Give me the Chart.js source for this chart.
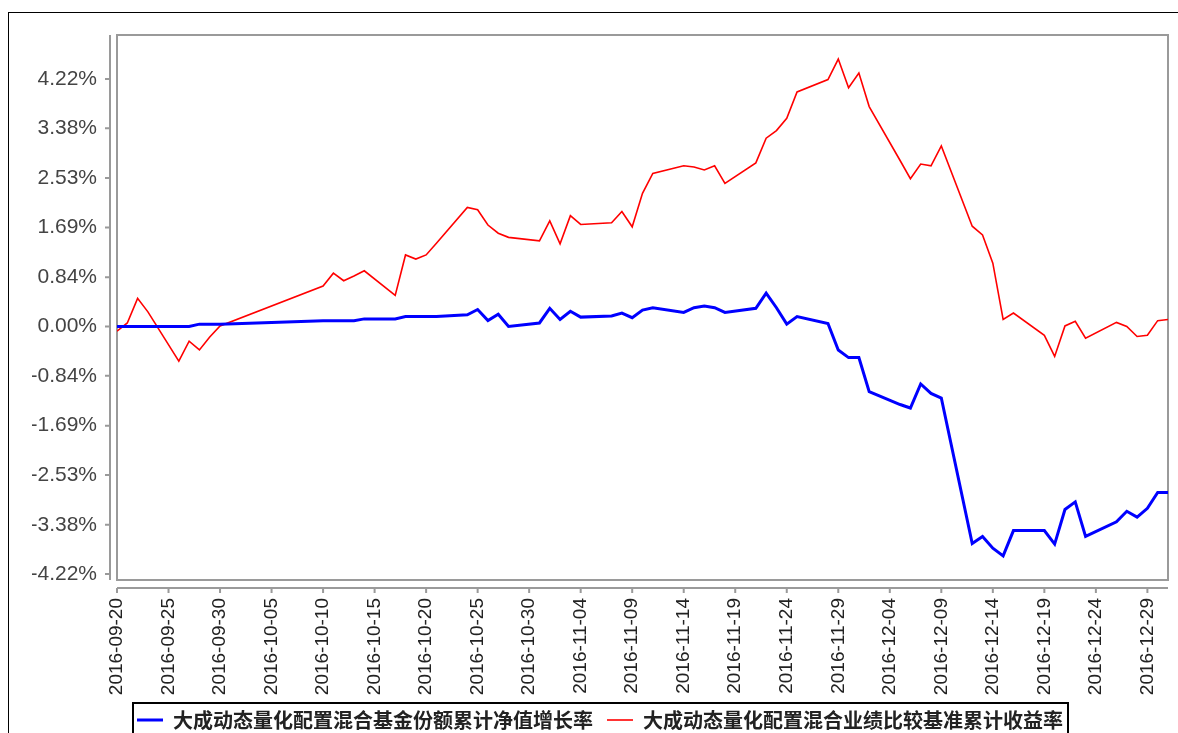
<!DOCTYPE html>
<html lang="zh-CN">
<head>
  <meta charset="UTF-8" />
  <title>大成动态量化配置混合 累计收益率</title>
  <script src="https://cdn.jsdelivr.net/npm/chart.js@4"></script>
  <style>
    html, body { margin: 0; padding: 0; background: #fff; overflow: hidden; }
    #wrap { position: relative; width: 1178px; height: 733px; overflow: hidden; }
    #frame {
      position: absolute; left: 8px; top: 12px; width: 1300px; height: 900px;
      border-left: 1px solid #000; border-top: 1px solid #000;
    }
    canvas { position: absolute; left: 0; top: 0; }
  </style>
</head>
<body>
  <div id="wrap">
    <div id="frame"></div>
    <canvas id="chart" width="1178" height="740"></canvas>
  </div>

  <script>
    // trading days (plus the year-end date)
    const dates = [
      "2016-09-20", "2016-09-21", "2016-09-22", "2016-09-23", "2016-09-26", "2016-09-27", "2016-09-28", "2016-09-29", "2016-09-30",
      "2016-10-10", "2016-10-11", "2016-10-12", "2016-10-13", "2016-10-14", "2016-10-17", "2016-10-18", "2016-10-19", "2016-10-20",
      "2016-10-21", "2016-10-24", "2016-10-25", "2016-10-26", "2016-10-27", "2016-10-28", "2016-10-31",
      "2016-11-01", "2016-11-02", "2016-11-03", "2016-11-04", "2016-11-07", "2016-11-08", "2016-11-09", "2016-11-10", "2016-11-11",
      "2016-11-14", "2016-11-15", "2016-11-16", "2016-11-17", "2016-11-18", "2016-11-21", "2016-11-22", "2016-11-23", "2016-11-24",
      "2016-11-25", "2016-11-28", "2016-11-29", "2016-11-30",
      "2016-12-01", "2016-12-02", "2016-12-05", "2016-12-06", "2016-12-07", "2016-12-08", "2016-12-09", "2016-12-12", "2016-12-13",
      "2016-12-14", "2016-12-15", "2016-12-16", "2016-12-19", "2016-12-20", "2016-12-21", "2016-12-22", "2016-12-23", "2016-12-26",
      "2016-12-27", "2016-12-28", "2016-12-29", "2016-12-30", "2016-12-31"
    ];

    // 基金份额累计净值增长率 (%)
    const fundReturn = [
      0.00, 0.00, 0.00, 0.00, 0.00, 0.00, 0.04, 0.04, 0.04,
      0.10, 0.10, 0.10, 0.10, 0.13, 0.13, 0.17, 0.17, 0.17,
      0.17, 0.20, 0.29, 0.10, 0.21, 0.00, 0.06,
      0.31, 0.12, 0.26, 0.16, 0.18, 0.23, 0.15, 0.28, 0.32,
      0.24, 0.32, 0.35, 0.32, 0.24, 0.31, 0.57, 0.32, 0.04,
      0.17, 0.05, -0.40, -0.53,
      -0.53, -1.11, -1.33, -1.39, -0.98, -1.14, -1.22, -3.70, -3.58,
      -3.78, -3.91, -3.48, -3.48, -3.71, -3.12, -2.99, -3.58, -3.33,
      -3.15, -3.25, -3.10, -2.83, -2.83
    ];

    // 业绩比较基准累计收益率 (%)
    const benchReturn = [
      -0.08, 0.06, 0.48, 0.25, -0.59, -0.25, -0.40, -0.18, 0.01,
      0.69, 0.91, 0.78, 0.86, 0.95, 0.53, 1.22, 1.15, 1.22,
      1.42, 2.03, 1.99, 1.73, 1.59, 1.52, 1.46,
      1.80, 1.41, 1.89, 1.74, 1.77, 1.96, 1.70, 2.27, 2.61,
      2.74, 2.72, 2.67, 2.74, 2.44, 2.79, 3.21, 3.34, 3.55,
      4.00, 4.21, 4.56, 4.07,
      4.32, 3.75, 2.83, 2.52, 2.77, 2.74, 3.08, 1.71, 1.56,
      1.08, 0.12, 0.23, -0.15, -0.51, 0.01, 0.09, -0.20, 0.07,
      0.00, -0.17, -0.15, 0.10, 0.12
    ];

    const seriesNames = [
      "大成动态量化配置混合基金份额累计净值增长率",
      "大成动态量化配置混合业绩比较基准累计收益率"
    ];

    const xTickDates = [
      "2016-09-20", "2016-09-25", "2016-09-30", "2016-10-05", "2016-10-10", "2016-10-15", "2016-10-20",
      "2016-10-25", "2016-10-30", "2016-11-04", "2016-11-09", "2016-11-14", "2016-11-19", "2016-11-24",
      "2016-11-29", "2016-12-04", "2016-12-09", "2016-12-14", "2016-12-19", "2016-12-24", "2016-12-29"
    ];

    const yTickValues = [-4.22, -3.38, -2.53, -1.69, -0.84, 0, 0.84, 1.69, 2.53, 3.38, 4.22];

    // x axis is calendar days counted from the first date
    const t0 = Date.parse(dates[0]);
    const dayOf = s => Math.round((Date.parse(s) - t0) / 86400000);

    const toPoints = values => dates.map((d, i) => ({ x: dayOf(d), y: values[i] }));

    // plot frame, detached axes and the boxed legend
    const framePlugin = {
      id: "framePlugin",
      beforeDatasetsDraw(chart) {
        const { ctx, chartArea: a, scales: { x, y } } = chart;
        ctx.save();
        ctx.strokeStyle = "#9a9a9a";
        ctx.lineWidth = 2;
        ctx.strokeRect(a.left, a.top, a.right - a.left, a.bottom - a.top);

        const ax = a.left - 7;
        const ay = a.bottom + 8;
        ctx.beginPath();
        ctx.moveTo(ax, a.top);
        ctx.lineTo(ax, a.bottom);
        y.ticks.forEach(t => {
          const py = y.getPixelForValue(t.value);
          ctx.moveTo(ax - 5, py);
          ctx.lineTo(ax, py);
        });
        ctx.moveTo(a.left, ay);
        ctx.lineTo(a.right, ay);
        x.ticks.forEach(t => {
          const px = x.getPixelForValue(t.value);
          ctx.moveTo(px, ay);
          ctx.lineTo(px, ay + 5);
        });
        ctx.stroke();
        ctx.restore();
      },
      afterDraw(chart) {
        const boxes = chart.legend && chart.legend.legendHitBoxes;
        if (!boxes || !boxes.length) return;
        const first = boxes[0];
        const last = boxes[boxes.length - 1];
        const left = first.left - 4;
        const top = first.top - 7;
        const right = last.left + last.width + 5;
        const ctx = chart.ctx;
        ctx.save();
        ctx.strokeStyle = "#000";
        ctx.lineWidth = 2;
        ctx.strokeRect(left, top, right - left, chart.height - top + 10);
        ctx.restore();
      }
    };

    new Chart(document.getElementById("chart").getContext("2d"), {
      type: "line",
      data: {
        datasets: [
          {
            label: seriesNames[0],
            data: toPoints(fundReturn),
            borderColor: "#0000ff",
            backgroundColor: "#0000ff",
            borderWidth: 3,
            pointRadius: 0,
            tension: 0,
            fill: false
          },
          {
            label: seriesNames[1],
            data: toPoints(benchReturn),
            borderColor: "#ff0000",
            backgroundColor: "#ff0000",
            borderWidth: 1.6,
            pointRadius: 0,
            tension: 0,
            fill: false
          }
        ]
      },
      options: {
        responsive: false,
        animation: false,
        layout: { padding: { top: 35, right: 10, left: 32, bottom: 0 } },
        plugins: {
          tooltip: { enabled: false },
          legend: {
            position: "bottom",
            labels: {
              usePointStyle: true,
              pointStyle: "line",
              pointStyleWidth: 26,
              padding: 14,
              color: "#222",
              font: { family: "'Noto Sans CJK SC', sans-serif", size: 20, weight: "bold" }
            }
          }
        },
        scales: {
          x: {
            type: "linear",
            min: 0,
            max: dayOf(dates[dates.length - 1]),
            grid: { display: false, drawTicks: false },
            border: { display: false },
            afterBuildTicks: s => { s.ticks = xTickDates.map(d => ({ value: dayOf(d) })); },
            afterFit: s => { s.height = 116; s.paddingLeft = 0; s.paddingRight = 0; },
            ticks: {
              autoSkip: false,
              minRotation: 90,
              maxRotation: 90,
              padding: 18,
              color: "#222",
              font: { family: "'Liberation Sans', Arial, sans-serif", size: 19 },
              callback: v => xTickDates.find(d => dayOf(d) === v) || ""
            }
          },
          y: {
            type: "linear",
            min: -4.322,
            max: 4.97,
            grid: { display: false, drawTicks: false },
            border: { display: false },
            afterBuildTicks: s => { s.ticks = yTickValues.map(v => ({ value: v })); },
            afterFit: s => { s.width = 85; },
            ticks: {
              padding: 20,
              color: "#444",
              font: { family: "'Liberation Sans', Arial, sans-serif", size: 21 },
              callback: v => v.toFixed(2) + "%"
            }
          }
        }
      },
      plugins: [framePlugin]
    });
  </script>
</body>
</html>
